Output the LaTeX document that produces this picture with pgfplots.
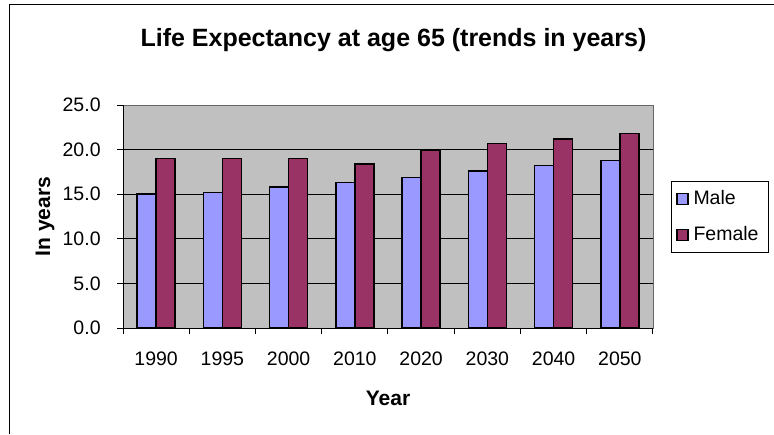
\documentclass[border=0pt]{standalone}
\usepackage{pgfplots}
\pgfplotsset{compat=1.18}
\usepackage{fontspec}
\setmainfont{Liberation Sans}
\definecolor{malec}{HTML}{9999FF}
\definecolor{femalec}{HTML}{993366}
\definecolor{plotbg}{HTML}{C0C0C0}
\begin{document}
\begin{tikzpicture}
\useasboundingbox (0,0) rectangle (387pt,217pt);
\draw[line width=0.8pt] (4.75pt,0pt) -- (4.75pt,214.65pt) -- (387pt,214.65pt);
\node[anchor=base, inner sep=0pt, font=\fontsize{12.5}{15}\selectfont\bfseries] at (196.75pt,193.5pt) {Life Expectancy at age 65 (trends in years)};
\begin{axis}[
  at={(61.5pt,53pt)}, anchor=south west,
  scale only axis, width=265pt, height=111.5pt,
  ybar=0pt, bar width=9.5pt,
  xmin=-0.5, xmax=7.5, ymin=0, ymax=25,
  axis background/.style={fill=plotbg, draw=gray!80!black, line width=0.4pt},
  axis x line*=bottom, axis y line*=left,
  axis line style={line width=0.5pt, black, -},
  xtick={0,1,2,3,4,5,6,7},
  xticklabels={1990,1995,2000,2010,2020,2030,2040,2050},
  major x tick style={draw=none},
  extra x ticks={-0.5,0.5,1.5,2.5,3.5,4.5,5.5,6.5,7.5},
  extra x tick labels={},
  extra x tick style={major tick length=3pt, tick align=outside, major x tick style={draw=black, line width=0.5pt}, grid=none},
  ytick={0,5,10,15,20},
  extra y ticks={25},
  extra y tick style={grid=none},
  tick align=outside, major tick length=3pt,
  tick style={black, line width=0.5pt},
  ymajorgrids, grid style={black, line width=0.5pt},
  y tick label style={/pgf/number format/fixed, /pgf/number format/fixed zerofill, /pgf/number format/precision=1},
  yticklabel style={anchor=east, inner sep=0pt, xshift=-8pt, font=\fontsize{9.75}{11}\selectfont},
  xticklabel style={anchor=base, inner sep=0pt, yshift=-15.5pt, font=\fontsize{9.75}{11}\selectfont},
  /pgf/number format/assume math mode=true,
  xlabel={Year},
  xlabel style={at={(axis description cs:0.5,-0.3453)}, anchor=base, inner sep=0pt, font=\fontsize{10.5}{12}\selectfont\bfseries},
  ylabel={In years},
  ylabel style={at={(axis description cs:-0.1377,0.5)}, anchor=base, inner sep=0pt, font=\fontsize{10.5}{12}\selectfont\bfseries},
  legend style={at={(axis description cs:1.0336,0.660)}, anchor=north west, draw=black, line width=0.5pt, fill=white,
    inner xsep=2.5pt, inner ysep=3pt, row sep=6.5pt,
    font=\fontsize{9.75}{11}\selectfont,
    nodes={inner xsep=2.5pt, inner ysep=1.5pt}},
  legend cell align=left,
  legend image code/.code={\draw[#1, line width=0.6pt] (0pt,-2.75pt) rectangle (5.5pt,2.75pt);},
]
\addplot[fill=malec, draw=black, line width=0.75pt] coordinates {(0,15.0) (1,15.2) (2,15.8) (3,16.3) (4,16.9) (5,17.6) (6,18.2) (7,18.8)};
\addplot[fill=femalec, draw=black, line width=0.75pt] coordinates {(0,19.0) (1,19.0) (2,19.0) (3,18.4) (4,19.9) (5,20.7) (6,21.2) (7,21.8)};
\legend{Male,Female}
\end{axis}
\end{tikzpicture}
\end{document}
